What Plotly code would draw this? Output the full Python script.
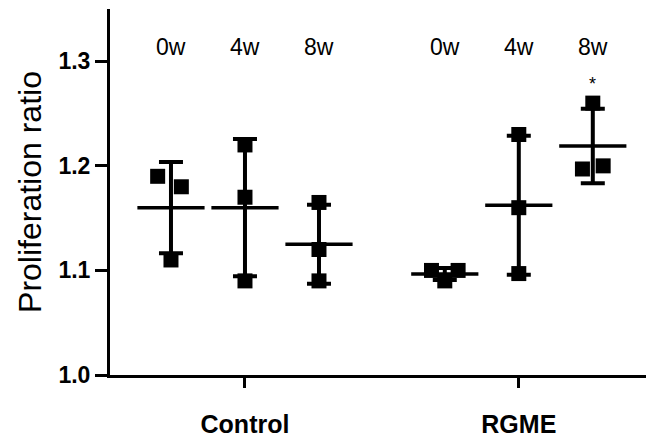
import numpy as np
import plotly.graph_objects as go

# ---- data ----
groups = ["Control", "RGME"]
timepoints = ["0w", "4w", "8w"]
control_0w = [1.19, 1.18, 1.11]
control_4w = [1.22, 1.17, 1.09]
control_8w = [1.165, 1.12, 1.09]
rgme_0w = [1.10, 1.09, 1.10]
rgme_4w = [1.23, 1.16, 1.097]
rgme_8w = [1.26, 1.197, 1.20]
significance = ["", "", "", "", "", "*"]

series = [control_0w, control_4w, control_8w, rgme_0w, rgme_4w, rgme_8w]
# horizontal scatter of replicate points (fraction of slot spacing)
jitter = [[-0.18, 0.14, 0.0], [0, 0, 0], [0, 0, 0],
          [-0.18, 0.0, 0.18], [0, 0, 0], [0.0, -0.14, 0.14]]

group_centers = [2.0, 5.7]
time_offsets = [-1.0, 0.0, 1.0]

FONT = "Liberation Sans, Arial, sans-serif"

fig = go.Figure()

positions = []
for gi, gc in enumerate(group_centers):
    for ti, to in enumerate(time_offsets):
        positions.append(gc + to)

for i, vals in enumerate(series):
    x0 = positions[i]
    vals = np.array(vals)
    m = vals.mean()
    sd = vals.std(ddof=1)
    # error bar (SD) on the mean
    fig.add_trace(go.Scatter(
        x=[x0], y=[m], mode="markers",
        marker=dict(size=1, color="rgba(0,0,0,0)"),
        error_y=dict(type="data", array=[sd], symmetric=True,
                     color="black", thickness=4, width=12),
        showlegend=False, hoverinfo="skip"))
    # points
    fig.add_trace(go.Scatter(
        x=[x0 + j for j in jitter[i]], y=vals, mode="markers",
        marker=dict(symbol="square", size=15, color="black"),
        showlegend=False))
    # mean line
    fig.add_trace(go.Scatter(
        x=[x0], y=[m], mode="markers",
        marker=dict(symbol="line-ew", size=48,
                    line=dict(width=3.5, color="black")),
        showlegend=False, hoverinfo="skip"))

annotations = []
for i, pos in enumerate(positions):
    annotations.append(dict(x=pos, y=1.314, xref="x", yref="y",
                            text=timepoints[i % 3], showarrow=False,
                            font=dict(family=FONT, size=23, color="black")))
    if significance[i]:
        annotations.append(dict(x=pos, y=1.278, xref="x", yref="y",
                                text=significance[i], showarrow=False,
                                font=dict(family=FONT, size=18, color="black")))

# page body has an 8px margin, so the figure is sized/offset to fit the 654x440 window
fig.update_layout(
    width=646, height=432,
    margin=dict(l=102, r=0, t=1, b=65),
    plot_bgcolor="white", paper_bgcolor="white",
    annotations=annotations,
    xaxis=dict(range=[0.176, 7.527], tickvals=group_centers, ticktext=[f"<b>{g}</b>" for g in groups],
               showline=True, linecolor="black", linewidth=3,
               ticks="outside", ticklen=10, tickwidth=3, tickcolor="black",
               showgrid=False, zeroline=False, ticklabelstandoff=15,
               automargin=False,
               tickfont=dict(family=FONT, size=25, color="black")),
    yaxis=dict(range=[1.0, 1.35], tickvals=[1.0, 1.1, 1.2, 1.3],
               ticktext=["<b>1.0</b>", "<b>1.1</b>", "<b>1.2</b>", "<b>1.3</b>"],
               showline=True, linecolor="black", linewidth=3,
               ticks="outside", ticklen=12, tickwidth=3, tickcolor="black",
               showgrid=False, zeroline=False, automargin=False,
               tickfont=dict(family=FONT, size=23, color="black"),
               title=dict(text="Proliferation ratio", standoff=8,
                          font=dict(family=FONT, size=32, color="black"))),
)

fig.write_html("out.html")
